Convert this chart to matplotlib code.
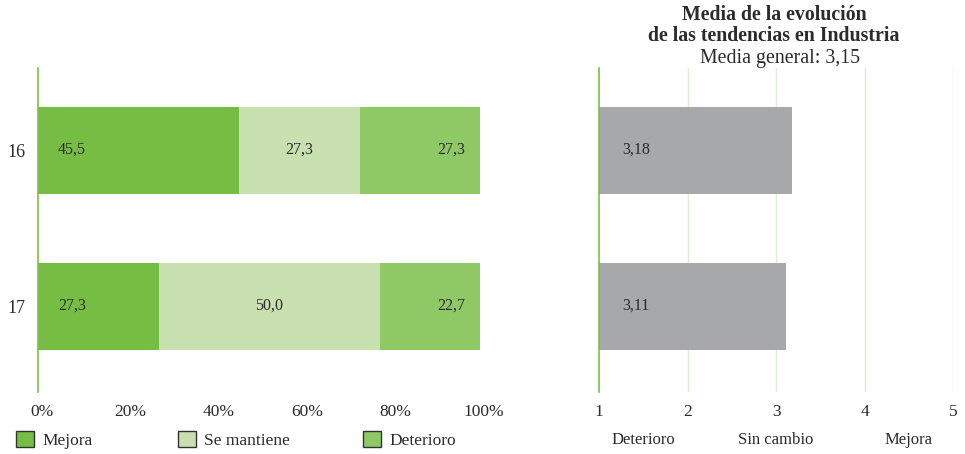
import matplotlib.pyplot as plt
import matplotlib.transforms as mtransforms
from matplotlib.patches import Patch

# Data
years = ["16", "17"]
mejora = [45.5, 27.3]
se_mantiene = [27.3, 50.0]
deterioro = [27.3, 22.7]
medias = [3.18, 3.11]
media_general = "3,15"

series_names = ["Mejora", "Se mantiene", "Deterioro"]
colors = ["#76BE43", "#C8E0AF", "#8FC965"]
gray = "#A7A8AA"
spine_green = "#7AC143"
grid_green = "#DDEFD1"
text_color = "#2b2b2b"

plt.rcParams["font.family"] = ["Liberation Serif", "DejaVu Serif"]


def fmt(v, nd=1):
    return f"{v:.{nd}f}".replace(".", ",")


fig = plt.figure(figsize=(9.65, 4.54), dpi=100)

# Left stacked bar chart
ax1 = fig.add_axes([38 / 965, 1 - 392 / 454, 442 / 965, 324 / 454])
ypos = list(range(len(years)))
bar_h = 0.558
left = [0] * len(years)
for name, vals, c in zip(series_names, [mejora, se_mantiene, deterioro], colors):
    ax1.barh(ypos, vals, left=left, height=bar_h, color=c, edgecolor="none")
    for i, v in enumerate(vals):
        start, end = left[i], left[i] + v
        if name == "Mejora":
            ax1.text(start + 4.5, i, fmt(v), ha="left", va="center", fontsize=11.5, color=text_color)
        elif name == "Se mantiene":
            ax1.text((start + end) / 2, i, fmt(v), ha="center", va="center", fontsize=11.5, color=text_color)
        else:
            ax1.text(min(end, 100) - 3.3, i, fmt(v), ha="right", va="center", fontsize=11.5, color=text_color)
    left = [l + v for l, v in zip(left, vals)]

ax1.set_xlim(0, 100)
ax1.set_ylim(1.551, -0.526)
ax1.set_yticks(ypos)
ax1.set_yticklabels(years, fontsize=13, color=text_color)
ax1.set_xticks([0, 20, 40, 60, 80, 100])
ax1.set_xticklabels(["0%", "20%", "40%", "60%", "80%", "100%"], fontsize=12.5, color=text_color)
ax1.tick_params(length=0, pad=9)
ax1.tick_params(axis="y", pad=9)
# the percent labels sit a few pixels right of their ticks in the original
shift = mtransforms.ScaledTranslation(4 / 100, 0, fig.dpi_scale_trans)
for lab in ax1.get_xticklabels():
    lab.set_transform(lab.get_transform() + shift)
for s in ["top", "right", "bottom"]:
    ax1.spines[s].set_visible(False)
ax1.spines["left"].set_color(spine_green)
ax1.spines["left"].set_linewidth(1.2)

# Legend
legend_x = [16 / 965, 178 / 965, 363 / 965]
for name, c, x in zip(series_names, colors, legend_x):
    h = Patch(facecolor=c, edgecolor="#333333", linewidth=1)
    fig.legend(handles=[h], labels=[name], loc="center left", bbox_to_anchor=(x, 1 - 440 / 454),
               frameon=False, fontsize=12.5, handlelength=1.05, handleheight=1.05,
               handletextpad=0.45, borderpad=0, borderaxespad=0, labelcolor=text_color)

# Right chart: averages
ax2 = fig.add_axes([599 / 965, 1 - 392 / 454, 354 / 965, 324 / 454])
ax2.barh(ypos, [m - 1 for m in medias], left=1, height=bar_h, color=gray, edgecolor="none", zorder=2)
for i, m in enumerate(medias):
    ax2.text(1.26, i, fmt(m, 2), ha="left", va="center", fontsize=11.5, color=text_color, zorder=3)
ax2.set_xlim(1, 5)
ax2.set_ylim(1.551, -0.526)
ax2.set_xticks([1, 2, 3, 4, 5])
ax2.set_xticklabels(["1", "2", "3", "4", "5"], fontsize=12.5, color=text_color)
ax2.set_yticks([])
ax2.tick_params(length=0, pad=9)
for x in [2, 3, 4, 5]:
    ax2.axvline(x, color=grid_green, linewidth=1, zorder=1)
for s in ["top", "right", "bottom"]:
    ax2.spines[s].set_visible(False)
ax2.spines["left"].set_color(spine_green)
ax2.spines["left"].set_linewidth(1.2)

for x, lab in zip([1.5, 3.0, 4.5], ["Deterioro", "Sin cambio", "Mejora"]):
    ax2.text(x, -0.148, lab, transform=ax2.get_xaxis_transform(), ha="center", va="center",
             fontsize=12, color=text_color)

fig.text(774 / 965, 1 - 15 / 454, "Media de la evolución", ha="center", va="center",
         fontsize=14.3, fontweight="bold", color=text_color)
fig.text(774 / 965, 1 - 36 / 454, "de las tendencias en Industria", ha="center", va="center",
         fontsize=14.3, fontweight="bold", color=text_color)
fig.text(780 / 965, 1 - 58 / 454, "Media general: " + media_general, ha="center", va="center",
         fontsize=14.3, color=text_color)

fig.savefig("out.png", dpi=100, facecolor="white")
